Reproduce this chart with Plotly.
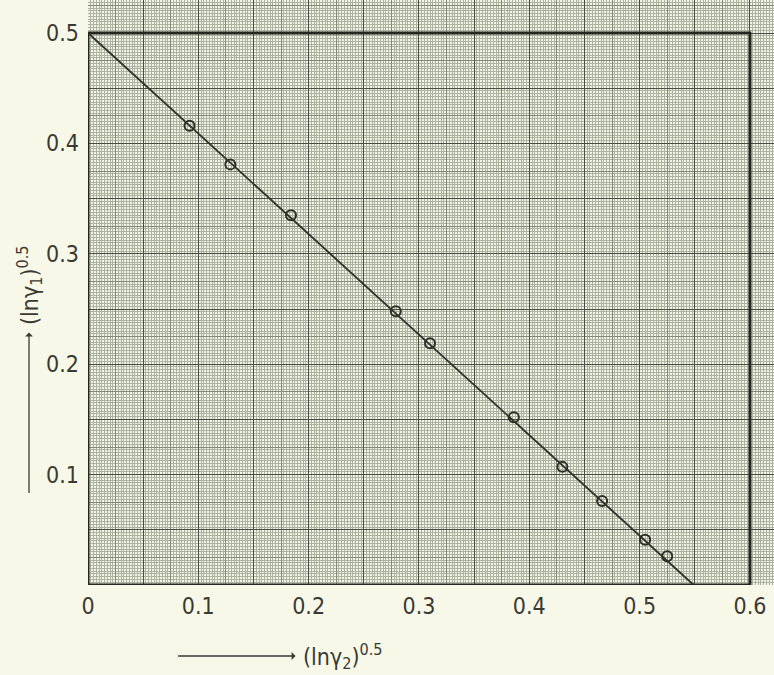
import plotly.graph_objects as go

# ---- data ----
x_obs = [0.092, 0.129, 0.184, 0.279, 0.310, 0.386, 0.430, 0.466, 0.505, 0.525]
y_obs = [0.416, 0.381, 0.335, 0.248, 0.219, 0.152, 0.107, 0.076, 0.041, 0.026]
fit_x = [0.0, 0.549]
fit_y = [0.5, 0.0]
x_tick_vals = [0.0, 0.1, 0.2, 0.3, 0.4, 0.5, 0.6]
x_tick_text = ["0", "0.1", "0.2", "0.3", "0.4", "0.5", "0.6"]
y_tick_vals = [0.1, 0.2, 0.3, 0.4, 0.5]
y_tick_text = ["0.1", "0.2", "0.3", "0.4", "0.5"]

X_RANGE = [0, 0.6218]
Y_RANGE = [0, 0.5299]
FRAME_X = 0.6
FRAME_Y = 0.5

INK = "#2e2f28"
TXT = "#3a3a34"
FONT = "DejaVu Sans Condensed, Liberation Sans Narrow, DejaVu Sans, sans-serif"

fig = go.Figure()
# base subplot (fine + medium grid), second level (major grid)
fig.add_trace(go.Scatter(x=[], y=[], xaxis="x", yaxis="y", showlegend=False))
fig.add_trace(go.Scatter(x=[], y=[], xaxis="x2", yaxis="y2", showlegend=False))
# fitted line
fig.add_trace(go.Scatter(x=fit_x, y=fit_y, mode="lines", xaxis="x3", yaxis="y3",
                         line=dict(color=INK, width=1.8), showlegend=False))
# observed points
fig.add_trace(go.Scatter(x=x_obs, y=y_obs, mode="markers", xaxis="x3", yaxis="y3",
                         marker=dict(symbol="circle-open", size=10, color=INK,
                                     line=dict(width=2, color=INK)),
                         showlegend=False))

base_grid = dict(range=X_RANGE, showgrid=True, gridcolor="#858a78", gridwidth=1,
                 dtick=0.025, tick0=0, showticklabels=False, zeroline=False, ticks="",
                 minor=dict(dtick=0.0025, tick0=0, showgrid=True, gridcolor="#aeb2a0", gridwidth=1))
major_grid = dict(showgrid=True, gridcolor="#4a4e42", gridwidth=1.2, dtick=0.05, tick0=0,
                  showticklabels=False, zeroline=False, ticks="")

fig.update_layout(
    width=774, height=675,
    margin=dict(l=88, r=0, t=0, b=90),
    paper_bgcolor="#f8f8e8",
    plot_bgcolor="#f1f3e7",
    font=dict(family=FONT, color=TXT, size=22),
    xaxis=dict(base_grid),
    yaxis=dict(base_grid, range=Y_RANGE),
    xaxis2=dict(major_grid, range=X_RANGE, overlaying="x", side="bottom"),
    yaxis2=dict(major_grid, range=Y_RANGE, overlaying="y", side="left"),
    xaxis3=dict(range=X_RANGE, overlaying="x", side="bottom", showgrid=False,
                tickmode="array", tickvals=x_tick_vals, ticktext=x_tick_text, ticks="",
                ticklabelstandoff=5, zeroline=False,
                tickfont=dict(size=23, family=FONT, color=TXT)),
    yaxis3=dict(range=Y_RANGE, overlaying="y", side="left", showgrid=False,
                tickmode="array", tickvals=y_tick_vals, ticktext=y_tick_text, ticks="",
                ticklabelstandoff=8, zeroline=False,
                tickfont=dict(size=23, family=FONT, color=TXT)),
    shapes=[dict(type="rect", xref="x3", yref="y3", x0=0, y0=0, x1=FRAME_X, y1=FRAME_Y,
                 line=dict(color="#262620", width=3), layer="above")],
    annotations=[
        # x-axis title with arrow coming from the left
        dict(xref="paper", yref="paper", x=(178 - 88) / 686, y=(585 - 656) / 585,
             ax=165, ay=0, axref="pixel", ayref="pixel", showarrow=True,
             arrowside="start", arrowhead=2, arrowsize=1, arrowwidth=1.3,
             arrowcolor=TXT, standoff=0, startstandoff=6,
             text="(ln\u03b3<sub>2</sub>)<sup>0.5</sup>", font=dict(size=23, family=FONT)),
        # y-axis title with arrow coming from below
        dict(xref="paper", yref="paper", x=(29 - 88) / 686, y=(585 - 493) / 585,
             ax=0, ay=-208, axref="pixel", ayref="pixel", showarrow=True,
             arrowside="start", arrowhead=2, arrowsize=1, arrowwidth=1.3,
             arrowcolor=TXT, standoff=0, startstandoff=6, textangle=-90,
             text="(ln\u03b3<sub>1</sub>)<sup>0.5</sup>", font=dict(size=23, family=FONT)),
    ],
)

fig.write_html("out.html")
